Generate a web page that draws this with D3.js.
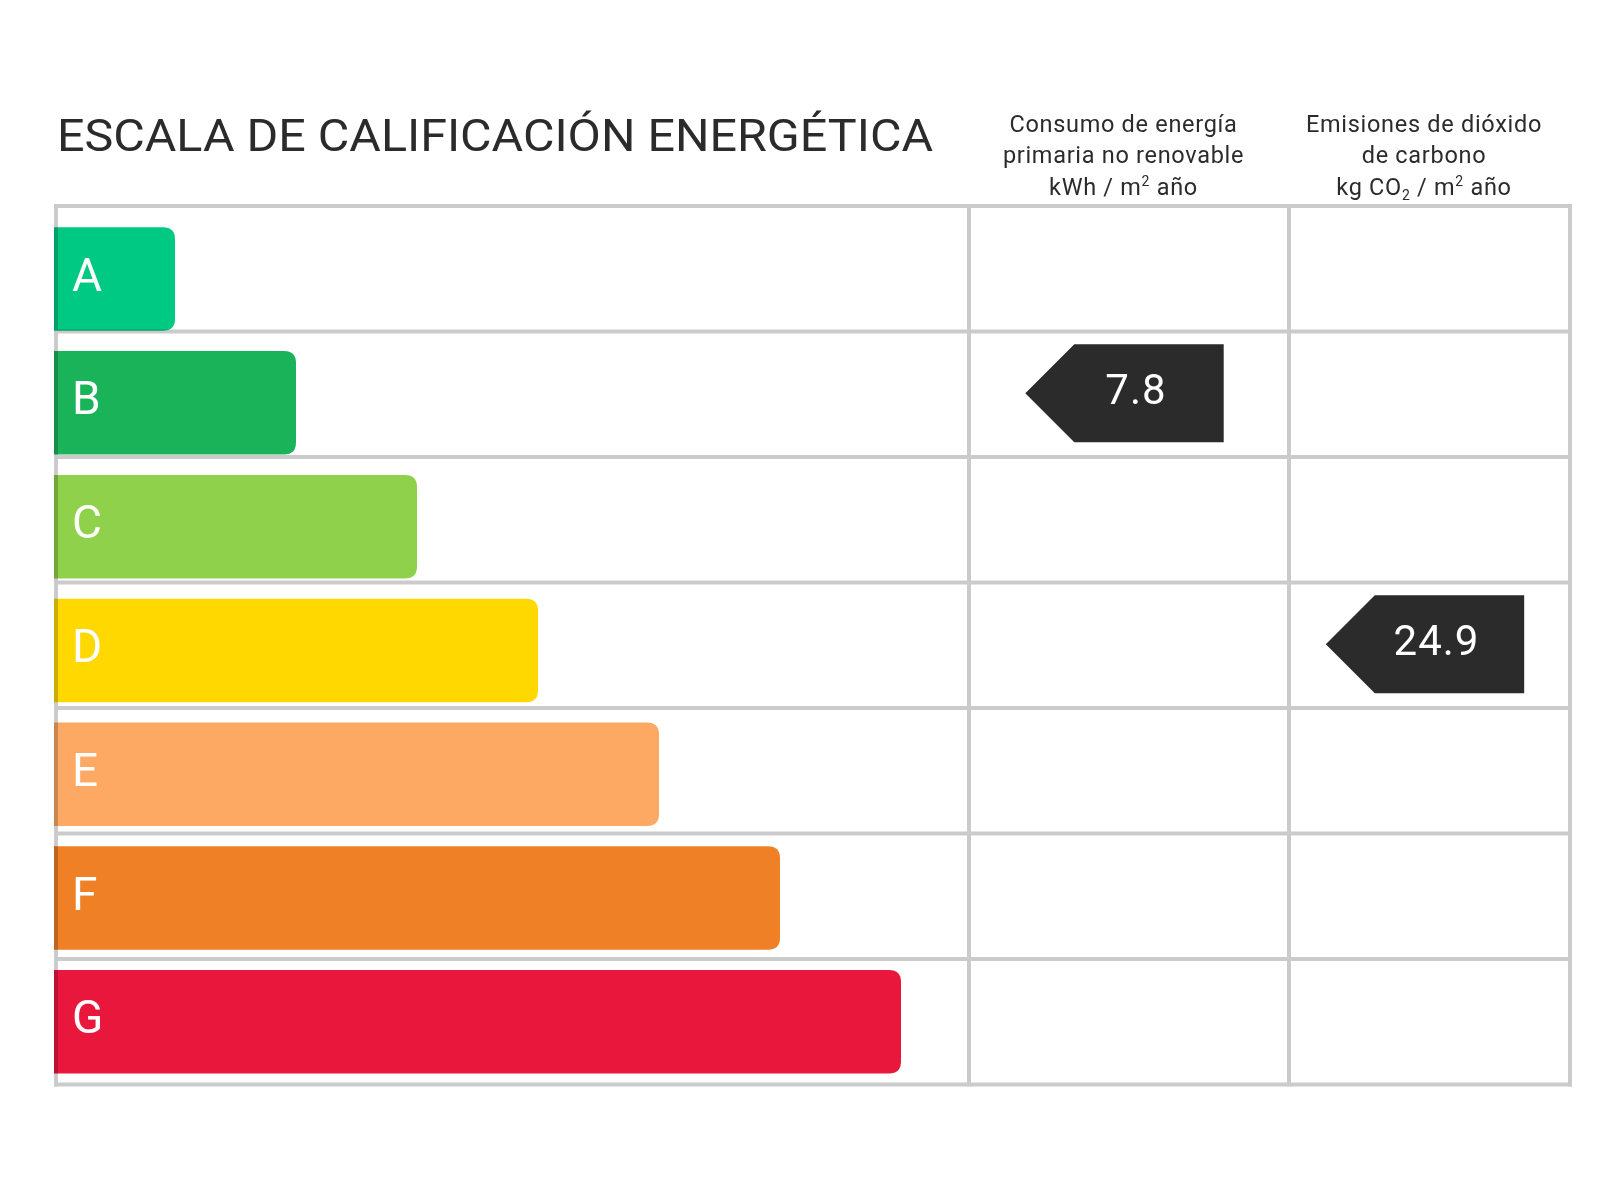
<!DOCTYPE html>
<html>
<head>
<meta charset="utf-8">
<script src="https://cdn.jsdelivr.net/npm/d3@7"></script>
<style>
  html, body { margin: 0; padding: 0; background: #ffffff; }
  svg { display: block; }
</style>
</head>
<body>
<script>
// ---------- data ----------
const classes = ["A", "B", "C", "D", "E", "F", "G"];
const classColors = ["#00C984", "#1BB35A", "#8FD14A", "#FFD800", "#FDA964", "#EF8026", "#EA173D"];
const barLevels = [1, 2, 3, 4, 5, 6, 7];
const titleText = "ESCALA DE CALIFICACIÓN ENERGÉTICA";
const columnHeaders = [
  [["Consumo de energía"], ["primaria no renovable"], ["kWh / m", {sup: "2"}, " año"]],
  [["Emisiones de dióxido"], ["de carbono"], ["kg CO", {sub: "2"}, " / m", {sup: "2"}, " año"]]
];
const indicatorClasses = ["B", "D"];
const indicatorValues = [7.8, 24.9];

// ---------- layout ----------
const W = 1600, H = 1200;
const gridTop = 206, rowStep = 125.5, gridLeft = 56, gridRight = 1570;
const colEdges = [969, 1289, 1570];
const gridColor = "#cbcbcb";
const textColor = "#2b2b2b";
const fontFamily = "Roboto, 'Noto Sans', sans-serif";

const svg = d3.select("body").append("svg")
  .attr("width", W).attr("height", H)
  .attr("viewBox", `0 0 ${W} ${H}`);

const yRow = d3.scaleBand().domain(classes)
  .range([gridTop, gridTop + rowStep * classes.length]).padding(0);
const barStep = 123.8;
const yBar = d3.scaleBand().domain(classes)
  .range([227.3, 227.3 + barStep * classes.length]).padding(0);
const barH = yBar.step() * 0.836;
const x = d3.scaleLinear().domain([0, 7]).range([54, 901]);
const colX = d3.scaleLinear().domain([0, 1, 2]).range(colEdges);
const colCenter = i => (colX(i) + colX(i + 1)) / 2 - 5.5;

// ---------- title ----------
svg.append("text")
  .attr("x", 57).attr("y", 151)
  .attr("font-family", fontFamily)
  .attr("font-size", 44)
  .attr("fill", textColor)
  .attr("textLength", 876)
  .attr("lengthAdjust", "spacingAndGlyphs")
  .text(titleText);

// ---------- column headers ----------
const headerBaselines = [131.7, 163.3, 195];
const hdrSize = 23.5, smallSize = 14;
columnHeaders.forEach((lines, ci) => {
  lines.forEach((parts, li) => {
    const t = svg.append("text")
      .attr("x", colCenter(ci))
      .attr("y", headerBaselines[li])
      .attr("text-anchor", "middle")
      .attr("font-family", fontFamily)
      .attr("font-size", hdrSize)
      .attr("letter-spacing", 0.7)
      .attr("fill", textColor);
    let pending = 0;
    parts.forEach(p => {
      if (typeof p === "string") {
        const ts = t.append("tspan").text(p);
        if (pending) { ts.attr("dy", pending); pending = 0; }
      } else if (p.sup) {
        t.append("tspan").attr("font-size", smallSize).attr("dy", -9).text(p.sup);
        pending = 9;
      } else if (p.sub) {
        t.append("tspan").attr("font-size", smallSize).attr("dy", 5).text(p.sub);
        pending = -5;
      }
    });
  });
});

// ---------- bars ----------
function barPath(x0, x1, y0, h, r) {
  return `M${x0},${y0} H${x1 - r} Q${x1},${y0} ${x1},${y0 + r} V${y0 + h - r} Q${x1},${y0 + h} ${x1 - r},${y0 + h} H${x0} Z`;
}
const barG = svg.append("g");
barG.selectAll("path.bar")
  .data(classes)
  .join("path")
  .attr("class", "bar")
  .attr("d", (c, i) => barPath(x(0), x(barLevels[i]), yBar(c), barH, 12))
  .attr("fill", (c, i) => classColors[i]);

barG.selectAll("text.cls")
  .data(classes)
  .join("text")
  .attr("class", "cls")
  .attr("x", 72)
  .attr("y", c => yBar(c) + barH / 2 + 11.6)
  .attr("font-family", fontFamily)
  .attr("font-size", 46)
  .attr("fill", "#ffffff")
  .text(c => c);

// ---------- grid ----------
const gridG = svg.append("g").style("mix-blend-mode", "multiply");
const hLines = classes.map(c => yRow(c)).concat([yRow(classes[classes.length - 1]) + yRow.step()]);
gridG.selectAll("line.h")
  .data(hLines)
  .join("line")
  .attr("x1", gridLeft - 2).attr("x2", gridRight + 2)
  .attr("y1", d => d).attr("y2", d => d)
  .attr("stroke", gridColor).attr("stroke-width", 4);
const vLines = [gridLeft].concat(colEdges);
const bottomY = hLines[hLines.length - 1];
gridG.selectAll("line.v")
  .data(vLines)
  .join("line")
  .attr("x1", d => d).attr("x2", d => d)
  .attr("y1", gridTop - 2).attr("y2", bottomY + 2)
  .attr("stroke", gridColor).attr("stroke-width", 4);

// ---------- indicators ----------
indicatorClasses.forEach((c, ci) => {
  const cx = colCenter(ci) + 1;
  const cy = yRow(c) + yRow.step() / 2 - 1;
  const half = 49, tip = 49, halfW = 99.2;
  const left = cx - halfW, right = cx + halfW;
  svg.append("path")
    .attr("d", `M${left},${cy} L${left + tip},${cy - half} H${right} V${cy + half} H${left + tip} Z`)
    .attr("fill", "#2b2b2b");
  svg.append("text")
    .attr("x", cx + 11.5)
    .attr("y", cy + 11)
    .attr("text-anchor", "middle")
    .attr("font-family", fontFamily)
    .attr("font-size", 42)
    .attr("letter-spacing", 1)
    .attr("fill", "#ffffff")
    .text(d3.format(".1f")(indicatorValues[ci]));
});
</script>
</body>
</html>
